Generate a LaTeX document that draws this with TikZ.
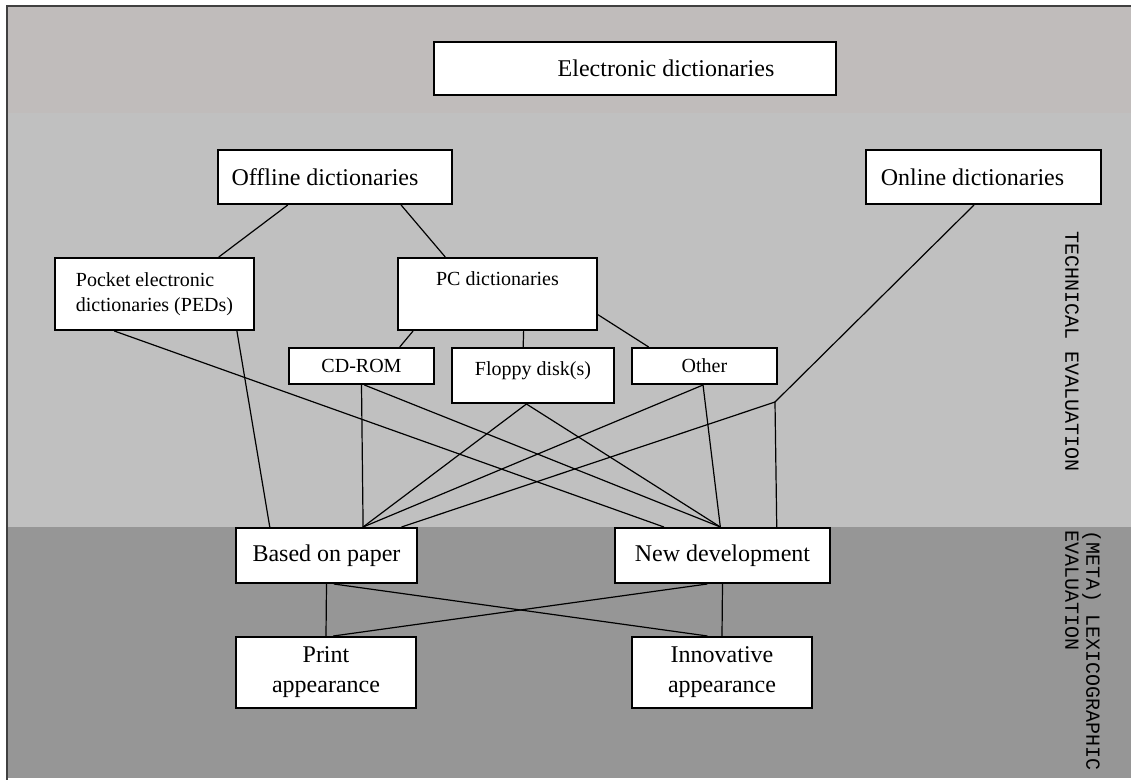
\documentclass[tikz,border=0pt]{standalone}
\usepackage{fontspec}
\setmainfont{Liberation Serif}
\setmonofont{Liberation Mono}
\usetikzlibrary{calc}

\definecolor{bandtop}{RGB}{192,188,187}
\definecolor{bandmid}{RGB}{192,192,192}
\definecolor{bandlow}{RGB}{150,150,150}

\begin{document}
\begin{tikzpicture}[x=0.5pt, y=-0.5pt, entry/.style={draw=black, fill=white, line width=1pt, anchor=north west, inner sep=0pt, align=center, font=\fontsize{12}{15}\selectfont}]
    \tikzset{smalltxt/.style={font=\fontsize{10}{12.5}\selectfont}}
    \tikzset{link/.style={line width=0.6pt, black}}
    \tikzset{sidelabel/.style={rotate=-90, inner sep=0pt, align=left, font=\fontsize{10}{10.5}\selectfont\ttfamily}}
    \useasboundingbox (0,0) rectangle (1131,780);
    % the three bands and the frame
    \fill[white] (0,0) rectangle (1131,780);
    \fill[bandtop] (7,6) rectangle (1131,113);
    \fill[bandmid] (7,113) rectangle (1131,527);
    \fill[bandlow] (7,527) rectangle (1131,778);
    \draw[line width=1.2pt, black!75] (7,780) -- (7,6) -- (1131,6);

    \node[entry, minimum width=201pt, minimum height=26.5pt] (ed) at (433,41) {\hspace*{31pt}Electronic dictionaries};
    \node[entry, minimum width=117pt, minimum height=27pt] (off) at (217,149) {Offline dictionaries\hspace*{10pt}};
    \node[entry, minimum width=117.5pt, minimum height=27pt] (onl) at (865,149) {Online dictionaries\hspace*{11pt}};

    \node[entry, smalltxt, align=left, minimum width=99.5pt, minimum height=36pt] (ped) at (54,257) {Pocket electronic\\dictionaries (PEDs)};
    \node[entry, smalltxt, minimum width=99.5pt, text height=14pt, text depth=22pt] (pc) at (397,257) {PC dictionaries};

    \node[entry, smalltxt, minimum width=72.5pt, minimum height=18pt] (cd) at (288,347) {CD-ROM};
    \node[entry, smalltxt, minimum width=81pt, text height=14pt, text depth=13.5pt] (flop) at (451,347) {Floppy disk(s)};
    \node[entry, smalltxt, minimum width=72.5pt, minimum height=18pt] (oth) at (631,347) {Other};

    \node[entry, minimum width=90.5pt, minimum height=27.5pt] (bop) at (235,527) {Based on paper};
    \node[entry, minimum width=107.5pt, minimum height=27.5pt] (nd) at (614,527) {New development};
    \node[entry, minimum width=90pt, minimum height=35.5pt] (pa) at (235,636) {Print\\appearance};
    \node[entry, minimum width=90pt, minimum height=35.5pt] (ia) at (631,636) {Innovative\\appearance};

    \node[sidelabel] (tech) at (1072,352) {TECHNICAL EVALUATION};
    \node[sidelabel] (lexi) at (1083,651) {(META) LEXICOGRAPHIC\\EVALUATION};

    % bottom edge of one box to top edge of another
    \foreach \a/\p/\b/\q in {off/.30/ped/.82, off/.78/pc/.24, pc/.08/cd/.76, pc/.63/flop/.44,
        ped/.91/bop/.19, ped/.30/nd/.23, cd/.50/bop/.70, cd/.52/nd/.49,
        flop/.46/bop/.70, flop/.46/nd/.49, oth/.49/bop/.70, oth/.49/nd/.49,
        bop/.50/pa/.50, bop/.54/ia/.42, nd/.43/pa/.54, nd/.50/ia/.50} {
    \draw[link] ($(\a.south west)!\p!(\a.south east)$) -- ($(\b.north west)!\q!(\b.north east)$);
    }
    \draw[link] ($(pc.north east)!.78!(pc.south east)$) -- ($(oth.north west)!.12!(oth.north east)$);
    \coordinate (jn) at (775,402);
    \draw[link] ($(onl.south west)!.46!(onl.south east)$) -- (jn) -- ($(nd.north west)!.75!(nd.north east)$);
    \draw[link] (jn) -- ($(bop.north west)!.91!(bop.north east)$);
\end{tikzpicture}
\end{document}
